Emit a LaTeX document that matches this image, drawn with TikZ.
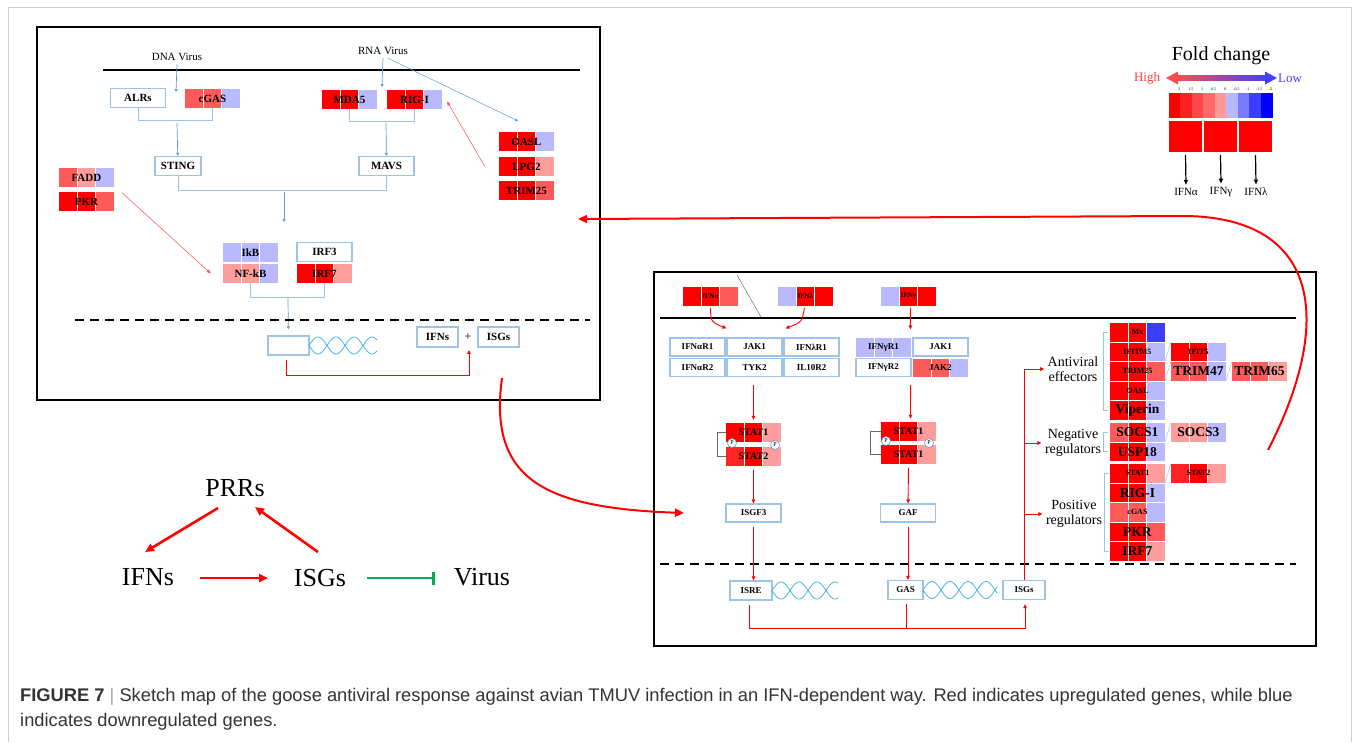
\documentclass[tikz,border=0pt]{standalone}
\usepackage{fontspec}
\setmainfont{Liberation Serif}
\newfontfamily\capfont{Liberation Sans}
\usetikzlibrary{positioning,calc,arrows.meta}

\definecolor{hred}{HTML}{FF0000}
\definecolor{hredb}{HTML}{FF2424}
\definecolor{hmid}{HTML}{FF5A5A}
\definecolor{hlow}{HTML}{FF9C9C}
\definecolor{hlav}{HTML}{B9B9FF}
\definecolor{hblu}{HTML}{3C3CFF}
\definecolor{lblue}{HTML}{9DC3E6}
\definecolor{ablue}{HTML}{5B9BD5}
\definecolor{dnacol}{HTML}{49B5E8}
\definecolor{inhib}{HTML}{00B050}
\definecolor{capgray}{HTML}{333333}

\def\cw{18.3}
\def\ch{19}
\def\hmfont{\bfseries\fontsize{11}{11}\selectfont}
\def\sfont{\bfseries\fontsize{8}{8}\selectfont}
\def\lfont{\bfseries\fontsize{13.5}{13.5}\selectfont}
\def\rfont{\bfseries\fontsize{9}{9}\selectfont}

% three coloured cells with the gene name on top
\newcommand{\hmap}[8][\hmfont]{%
  \fill[#5] (#3,#4) rectangle ++(\cw,\ch);
  \fill[#6] (#3+\cw,#4) rectangle ++(\cw,\ch);
  \fill[#7] (#3+2*\cw,#4) rectangle ++(\cw,\ch);
  \draw[white,line width=.6pt] (#3+\cw,#4) -- ++(0,\ch) (#3+2*\cw,#4) -- ++(0,\ch);
  \node[hmlabel,font=#1] (#2) at (#3+1.5*\cw,#4+0.5*\ch) {#8};
}

\newcommand{\helix}[3]{%
  \draw[helixc] plot[domain=0:#3,samples=70,smooth] ({#1+\x},{#2+8.5*sin(\x*10)});
  \draw[helixc] plot[domain=0:#3,samples=70,smooth] ({#1+\x},{#2-8.5*sin(\x*10)});
}

\begin{document}
\begin{tikzpicture}[x=1pt,y=-1pt,
  gbox/.style={draw=lblue,line width=1.2pt,fill=white,minimum width=55,minimum height=19,inner sep=0,font=\hmfont},
  rbox/.style={gbox,minimum height=18,font=\rfont},
  hmlabel/.style={minimum width=3*\cw,minimum height=\ch,inner sep=0},
  barr/.style={ablue,line width=.7pt,-{Triangle[length=3pt,width=3pt]}},
  brk/.style={lblue,line width=.8pt},
  stbrk/.style={black!60,line width=1pt},
  rarr/.style={red,line width=.9pt,-{Triangle[length=4pt,width=3.5pt]}},
  rline/.style={red,line width=.9pt},
  rthin/.style={red!70,line width=.5pt,-{Triangle[length=4pt,width=3pt]}},
  helixc/.style={dnacol,line width=.8pt},
  pcirc/.style={circle,draw=ablue,fill=white,inner sep=0,minimum size=9,line width=.6pt,font=\fontsize{6}{6}\selectfont},
  big/.style={red,line width=2pt,-{Triangle[length=9pt,width=8pt]}},
  parr/.style={red,line width=2.6pt,-{Triangle[length=9pt,width=8pt]}},
  ginh/.style={inhib,line width=2.6pt,-{Bar[width=13pt,line width=2.6pt]}},
  karr/.style={black,line width=1.2pt,-{Triangle[length=5pt,width=4pt]}},
  slash/.style={lblue,line width=.5pt},
  membrane/.style={black,line width=2pt},
  nucleus/.style={black,line width=2.2pt,dash pattern=on 9pt off 6pt}]

\useasboundingbox (0,0) rectangle (1359,742);
\draw[gray!40,line width=.8pt] (8,742) |- (1351,7) -- (1351,742);

% cytosolic sensing
\draw[line width=1.6pt] (37,27) rectangle (600,400);
\draw[membrane] (103,70) -- (580,70);
\node[font=\fontsize{11}{11}\selectfont] (dna) at (177,57) {DNA Virus};
\node[font=\fontsize{11}{11}\selectfont] (rna) at (383,51) {RNA Virus};

\node[gbox] (alrs) at (138,98) {ALRs};
\hmap{cgas}{185}{89}{hmid}{hmid}{hlav}{cGAS}
\hmap{mda5}{322}{90}{hred}{hred}{hlav}{MDA5}
\hmap{rigi}{387}{90}{hred}{hred}{hlav}{RIG-I}
\node[gbox,minimum width=46] (sting) at (178,166) {STING};
\node[gbox] (mavs) at (386.5,166) {MAVS};
\hmap{oasl}{499}{132}{hred}{hred}{hlav}{OASL}
\hmap{lpg}{499}{157}{hred}{hred}{hlow}{LPG2}
\hmap{trim}{499}{181}{hred}{hred}{hmid}{TRIM25}
\hmap{fadd}{59}{168}{hmid}{hlow}{hlav}{FADD}
\hmap{pkr}{59}{192}{hred}{hred}{hmid}{PKR}
\hmap{ikb}{223}{243}{hlav}{hlav}{hlav}{IkB}
\hmap{nfkb}{223}{264}{hlow}{hlow}{hlav}{NF-kB}
\node[gbox] (irf3) at (324.5,252) {IRF3};
\hmap{irf7}{297}{264}{hred}{hred}{hlow}{IRF7}

\coordinate (dnaend) at (176,92);
\coordinate (rnaend) at (382,87);
\coordinate (oaslend) at (518,121);
\draw[barr] (dna.south) -- (dnaend);
\draw[barr] (rna.south) -- (rnaend);
\draw[barr,line width=.5pt] ([xshift=5]rna.south) -- (oaslend);

\draw[brk] (alrs.south) -- ++(0,12) -| (cgas.south);
\coordinate (j1) at (177,123);
\draw[barr] (j1) -- (sting);
\draw[brk] (mda5.south) -- ++(0,12) -| (rigi.south);
\coordinate (j2) at (386,123);
\draw[barr] (j2) -- (mavs);
\draw[brk] (sting.south) -- ++(0,14) -| (mavs.south);
\coordinate (j3) at (284,192);
\coordinate (j3e) at (284,222);
\draw[barr] (j3) -- (j3e);

\draw[rthin] ([xshift=-14]lpg.west) -- ([shift={(5,2)}]rigi.east);
\draw[rthin] ([shift={(8,1)}]pkr.north east) -- ([xshift=-12]nfkb.west);

\draw[brk] (nfkb.south) -- ++(0,14) -| (irf7.south);
\coordinate (j4) at (288,298);
\node[gbox,minimum width=41] (prom) at (288.5,345.5) {};
\draw[barr,shorten >=6pt] (j4) -- (prom);

\draw[nucleus] (75,320) -- (590,320);
\helix{309}{345.5}{68}
\node[gbox,minimum width=41,minimum height=20] (ifns) at (437.5,337) {IFNs};
\node[font=\fontsize{12}{12}\selectfont] (plus) at (468,337) {+};
\node[gbox,minimum width=41,minimum height=20] (isgsa) at (498.5,337) {ISGs};
\draw[rarr] ([shift={(-2,4)}]prom.south) -- ++(0,16) -| ([shift={(1,6)}]plus.south);

% IFN signalling
\draw[line width=1.6pt] (654,272) rectangle (1316,646);
\draw[membrane] (660,318) -- (1296,318);
\draw[gray,line width=.6pt] (737,275) -- (761,317);
\def\ch{18.5}
\hmap[\bfseries\fontsize{7}{7}\selectfont]{ifna}{683}{287}{hred}{hred}{hmid}{IFNα}
\hmap[\bfseries\fontsize{7}{7}\selectfont]{ifnl}{778}{287}{hlav}{hred}{hred}{IFNλ}
\hmap[\bfseries\fontsize{7}{7}\selectfont]{ifng}{881}{287}{hlav}{hred}{hred}{IFNγ}

\node[rbox] (ar1) at (697.5,347) {IFNαR1};
\node[rbox] (jak1a) at (754.5,347) {JAK1};
\node[rbox] (lr1) at (811.5,347) {IFNλR1};
\node[rbox] (ar2) at (697.5,367.5) {IFNαR2};
\node[rbox] (tyk2) at (754.5,367.5) {TYK2};
\node[rbox] (il10) at (811.5,367.5) {IL10R2};
\hmap[\rfont]{gr1}{856}{338}{hlav}{hlav}{hlav}{IFNγR1}
\node[rbox] (jak1g) at (940.5,347) {JAK1};
\node[rbox] (gr2) at (883.5,367.5) {IFNγR2};
\hmap[\rfont]{jak2}{913}{358.5}{hmid}{hmid}{hlav}{JAK2}

\draw[rarr] ([shift={(0,2)}]ifna.south) .. controls (711,322) .. ([shift={(-28,-9)}]jak1a.north);
\draw[rarr] ([shift={(-1,2)}]ifnl.south) .. controls (802,322) .. ([shift={(-26,-9)}]lr1.north);
\draw[rarr] ([shift={(2,2)}]ifng.south) -- ([shift={(-2,-8)}]jak1g.north west);

\def\stfont{\bfseries\fontsize{10}{10}\selectfont}
\hmap[\stfont]{sa}{726}{423}{hred}{hred}{hlow}{STAT1}
\hmap[\stfont]{sb}{726}{447}{hredb}{hred}{hlow}{STAT2}
\hmap[\stfont]{sc}{881}{422}{hred}{hred}{hlow}{STAT1}
\hmap[\stfont]{sd}{881}{445}{hred}{hred}{hlow}{STAT1}
\draw[stbrk] (sa.west) -- ++(-8,0) |- (sb.west);
\draw[stbrk] (sc.west) -- ++(-10,0) |- (sd.west);
\node[pcirc] (pa) at (732,443) {P};
\node[pcirc] (pb) at (775,445) {P};
\node[pcirc] (pc) at (886,441) {P};
\node[pcirc] (pd) at (929,443) {P};

\draw[rarr] ([shift={(-1,8)}]tyk2.south) -- ([shift={(0,-3)}]sa.north);
\draw[rarr] ([shift={(-1,8)}]gr2.south east) -- ([shift={(2,-3)}]sc.north);

\node[rbox] (isgf3) at (753.5,513) {ISGF3};
\node[rbox] (gaf) at (908,513) {GAF};
\draw[rarr] ([shift={(0,4)}]sb.south) -- (isgf3);
\draw[rarr] ([shift={(0,4)}]sd.south) -- (gaf);

\draw[nucleus] (660,564) -- (1296,564);
\node[rbox,minimum width=42,minimum height=19] (isre) at (751,590.5) {ISRE};
\node[rbox,minimum width=35,minimum height=19] (gas) at (905.5,590) {GAS};
\node[rbox,minimum width=42,minimum height=19] (isgsb) at (1024,590) {ISGs};
\helix{772}{590.5}{66}
\helix{923}{590}{74}
\draw[rarr] ([shift={(0,4)}]isgf3.south) -- (isgf3.south |- isre.north);
\draw[rarr] ([shift={(0,4)}]gaf.south) -- (gaf.south |- gas.north);
\draw[rarr] ([shift={(-2,4)}]isre.south) -- ++(0,24) -| ([shift={(1,4)}]isgsb.south);
\draw[rline] ([shift={(1,4)}]gas.south) -- ++(0,24);

\node[font=\fontsize{14}{15}\selectfont,align=center] (av) at (1073,369) {Antiviral\\effectors};
\node[font=\fontsize{14}{15}\selectfont,align=center] (nr) at (1073,443) {Negative\\regulators};
\node[font=\fontsize{14}{15}\selectfont,align=center] (pr) at (1074,514) {Positive\\regulators};
\draw[rline] (isgsb.north) -- (isgsb.north |- av.west);
\draw[rarr] (isgsb.north |- av.west) -- (av.west);
\draw[rarr] (isgsb.north |- nr.west) -- (nr.west);
\draw[rarr] (isgsb.north |- pr.west) -- (pr.west);

\hmap[\sfont]{mx}{1110}{323}{hred}{hred}{hblu}{Mx}
\hmap[\sfont]{ifitm}{1110}{342.5}{hred}{hred}{hlav}{IFITM5}
\hmap[\sfont]{trimb}{1110}{362}{hred}{hred}{hmid}{TRIM25}
\hmap[\sfont]{oaslb}{1110}{381.5}{hred}{hred}{hlav}{OASL}
\hmap[\lfont]{viper}{1110}{401}{hred}{hred}{hlav}{Viperin}
\hmap[\lfont]{socsa}{1110}{423}{hmid}{hred}{hlav}{SOCS1}
\hmap[\lfont]{usp}{1110}{442.5}{hred}{hred}{hlav}{USP18}
\hmap[\sfont]{stata}{1110}{464}{hred}{hred}{hlow}{STAT1}
\hmap[\lfont]{rigib}{1110}{483.5}{hred}{hred}{hlav}{RIG-I}
\hmap[\sfont]{cgasb}{1110}{503}{hmid}{hmid}{hlav}{cGAS}
\hmap[\lfont]{pkrb}{1110}{522.5}{hred}{hred}{hmid}{PKR}
\hmap[\lfont]{irfb}{1110}{542}{hred}{hred}{hlow}{IRF7}

\hmap[\sfont]{ifit}{1171}{342.5}{hred}{hred}{hlav}{IFIT5}
\hmap[\lfont]{trimc}{1171}{362}{hmid}{hmid}{hlav}{TRIM47}
\hmap[\lfont]{trimd}{1232}{362}{hmid}{hmid}{hlow}{TRIM65}
\hmap[\lfont]{socsb}{1171}{423}{hlow}{hlow}{hlav}{SOCS3}
\hmap[\sfont]{statb}{1171}{464}{hredb}{hred}{hlow}{STAT2}

\draw[slash] (ifitm.south east) -- (ifit.north west);
\draw[slash] (trimb.south east) -- (trimc.north west);
\draw[slash] (trimc.south east) -- (trimd.north west);
\draw[slash] (socsa.south east) -- (socsb.north west);
\draw[slash] (stata.south east) -- (statb.north west);

\draw[brk] ([xshift=-2]mx.west) -- ++(-4,0) |- ([xshift=-2]viper.west);
\draw[brk] ([xshift=-2]socsa.west) -- ++(-4,0) |- ([xshift=-2]usp.west);
\draw[brk] ([xshift=-1]stata.west) -- ++(-4,0) |- ([xshift=-1]irfb.west);

% feedback between the two panels
\coordinate (ca) at (502,378);
\coordinate (cb) at (684,513);
\draw[big] (ca) .. controls (488,480) and (545,508) .. (cb);
\coordinate (cc) at (1268,450);
\coordinate (cd) at (578,219);
\draw[big] (cc) .. controls (1335,320) and (1320,215) .. (1180,216) -- (cd);

% colour key
\node[font=\fontsize{20}{20}\selectfont] (fold) at (1221,56) {Fold change};
\node[font=\fontsize{13}{13}\selectfont,text=red!75] (high) at (1147,78) {High};
\node[font=\fontsize{13}{13}\selectfont,text=blue!75] (low) at (1290,78) {Low};
\shade[left color=red!70,middle color=white,right color=blue!75] (1176,75.5) rectangle (1267,80.5);
\fill[red!70] (1166,78) -- (1178,71.5) -- (1178,84.5) -- cycle;
\fill[blue!75] (1277,78) -- (1265,71.5) -- (1265,84.5) -- cycle;
\foreach \c [count=\i from 0] in {red,red!88,red!72,red!58,red!40,blue!28,blue!52,blue!76,blue}
  \fill[\c] (1168.5+\i*11.56,93) rectangle ++(11.56,25);
\foreach \v [count=\i] in {2,1.5,1,0.5,0,-0.5,-1,-1.5,-2}
  \node[font=\fontsize{4}{4}\selectfont,inner sep=0] at (1168+\i*11.4,89) {\v};
\node[fill=red,minimum width=33,minimum height=31,inner sep=0] (sqa) at (1185.5,136.5) {};
\node[fill=red,minimum width=33,minimum height=31,inner sep=0] (sqb) at (1220.5,136.5) {};
\node[fill=red,minimum width=33,minimum height=31,inner sep=0] (sqc) at (1255.5,136.5) {};
\node[font=\fontsize{11}{11}\selectfont] (lba) at (1186,192) {IFNα};
\node[font=\fontsize{11}{11}\selectfont] (lbb) at (1221,192) {IFNγ};
\node[font=\fontsize{11}{11}\selectfont] (lbc) at (1256,192) {IFNλ};
\draw[karr] ([shift={(0,3)}]sqa.south) -- (lba.north);
\draw[karr] ([shift={(0,3)}]sqb.south) -- (lbb.north);
\draw[karr] ([shift={(0,3)}]sqc.south) -- (lbc.north);

% feedback loop
\node[font=\fontsize{26}{26}\selectfont] (prrs) at (235,488) {PRRs};
\node[font=\fontsize{26}{26}\selectfont] (ifnsb) at (148,577) {IFNs};
\node[font=\fontsize{26}{26}\selectfont] (isgsc) at (320,578) {ISGs};
\node[font=\fontsize{26}{26}\selectfont] (virus) at (482,577) {Virus};
\draw[parr] ([shift={(-17,20)}]prrs.center) -- ([shift={(-3,-25)}]ifnsb.center);
\draw[parr] ([shift={(-2,-26)}]isgsc.center) -- ([shift={(20,19)}]prrs.center);
\draw[parr] ([shift={(52,1)}]ifnsb.center) -- ([shift={(-52,0)}]isgsc.center);
\draw[ginh] ([shift={(47,0)}]isgsc.center) -- ([shift={(-47,1)}]virus.center);

\node[anchor=west,inner sep=0,font=\capfont\fontsize{18.3}{18.3}\selectfont,text=capgray] (cap1) at (20,697)
  {\textbf{FIGURE 7} {\color{gray!70}|} Sketch map of the goose antiviral response against avian TMUV infection in an IFN-dependent way. Red indicates upregulated genes, while blue};
\node[anchor=west,inner sep=0,font=\capfont\fontsize{18.3}{18.3}\selectfont,text=capgray] (cap2) at (20,722)
  {indicates downregulated genes.};
\end{tikzpicture}
\end{document}
